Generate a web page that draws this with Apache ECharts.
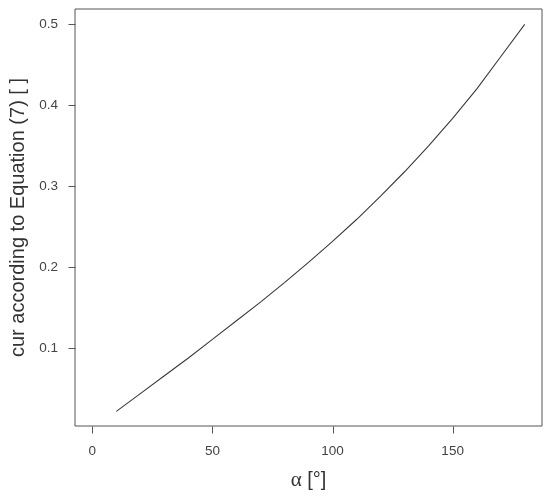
<!DOCTYPE html>
<html>
<head>
<meta charset="utf-8">
<script src="https://cdn.jsdelivr.net/npm/echarts@6/dist/echarts.min.js"></script>
<style>html,body{margin:0;padding:0;background:#fff}#c{width:550px;height:496px}</style>
</head>
<body>
<div id="c"></div>
<script>
var alphaDeg = [10, 20, 30, 40, 50, 60, 70, 80, 90, 100, 110, 120, 130, 140, 150, 160, 170, 180];
var curValues = [0.022, 0.044, 0.066, 0.088, 0.111, 0.134, 0.157, 0.181, 0.206, 0.232, 0.259, 0.288, 0.318, 0.350, 0.384, 0.420, 0.460, 0.500];
var xTicks = [0, 50, 100, 150];
var yTicks = [0.1, 0.2, 0.3, 0.4, 0.5];
var xRange = [-7.2, 187.2];
var yRange = [0.004, 0.519];

var points = alphaDeg.map(function (a, i) { return [a, curValues[i]]; });
var TICK_LEN = 7;

function tickRenderer(dir) {
  return function (params, api) {
    var p = api.coord([api.value(0), api.value(1)]);
    var x = Math.round(p[0]) + 0.5, y = Math.round(p[1]) + 0.5;
    var shape = dir === 'down'
      ? {x1: x, y1: y, x2: x, y2: y + TICK_LEN}
      : {x1: x, y1: y, x2: x - TICK_LEN, y2: y};
    return {type: 'line', shape: shape, style: {stroke: '#555', lineWidth: 1}};
  };
}

var chart = echarts.init(document.getElementById('c'), null, {renderer: 'canvas'});
chart.setOption({
  animation: false,
  backgroundColor: '#fff',
  grid: {left: 75, top: 9, right: 8, bottom: 70, show: true, borderColor: '#555', borderWidth: 1},
  xAxis: {
    type: 'value', min: xRange[0], max: xRange[1],
    splitLine: {show: false},
    axisLine: {show: false, onZero: false},
    axisTick: {show: false},
    axisLabel: {customValues: xTicks, color: '#444', fontSize: 13.5, fontFamily: 'Liberation Sans', margin: 18},
    name: '{a|α} [°]', nameLocation: 'middle', nameGap: 44,
    nameTextStyle: {color: '#333', fontSize: 20, fontFamily: 'Liberation Sans',
      rich: {a: {fontFamily: 'Liberation Serif', fontSize: 21, color: '#333'}}}
  },
  yAxis: {
    type: 'value', min: yRange[0], max: yRange[1],
    splitLine: {show: false},
    axisLine: {show: false, onZero: false},
    axisTick: {show: false},
    axisLabel: {customValues: yTicks, color: '#444', fontSize: 13.5, fontFamily: 'Liberation Sans', margin: 17,
      formatter: function (v) { return String(Math.round(v * 10) / 10); }},
    name: 'cur according to Equation (7) [ ]', nameLocation: 'middle', nameGap: 45,
    nameTextStyle: {color: '#333', fontSize: 20, fontFamily: 'Liberation Sans'}
  },
  series: [{
    type: 'line', data: points, showSymbol: false, smooth: false,
    lineStyle: {color: '#3a3a3a', width: 1.1}
  }, {
    type: 'custom', clip: false, silent: true,
    data: xTicks.map(function (v) { return [v, yRange[0]]; }),
    renderItem: tickRenderer('down')
  }, {
    type: 'custom', clip: false, silent: true,
    data: yTicks.map(function (v) { return [xRange[0], v]; }),
    renderItem: tickRenderer('left')
  }]
});
</script>
</body>
</html>
